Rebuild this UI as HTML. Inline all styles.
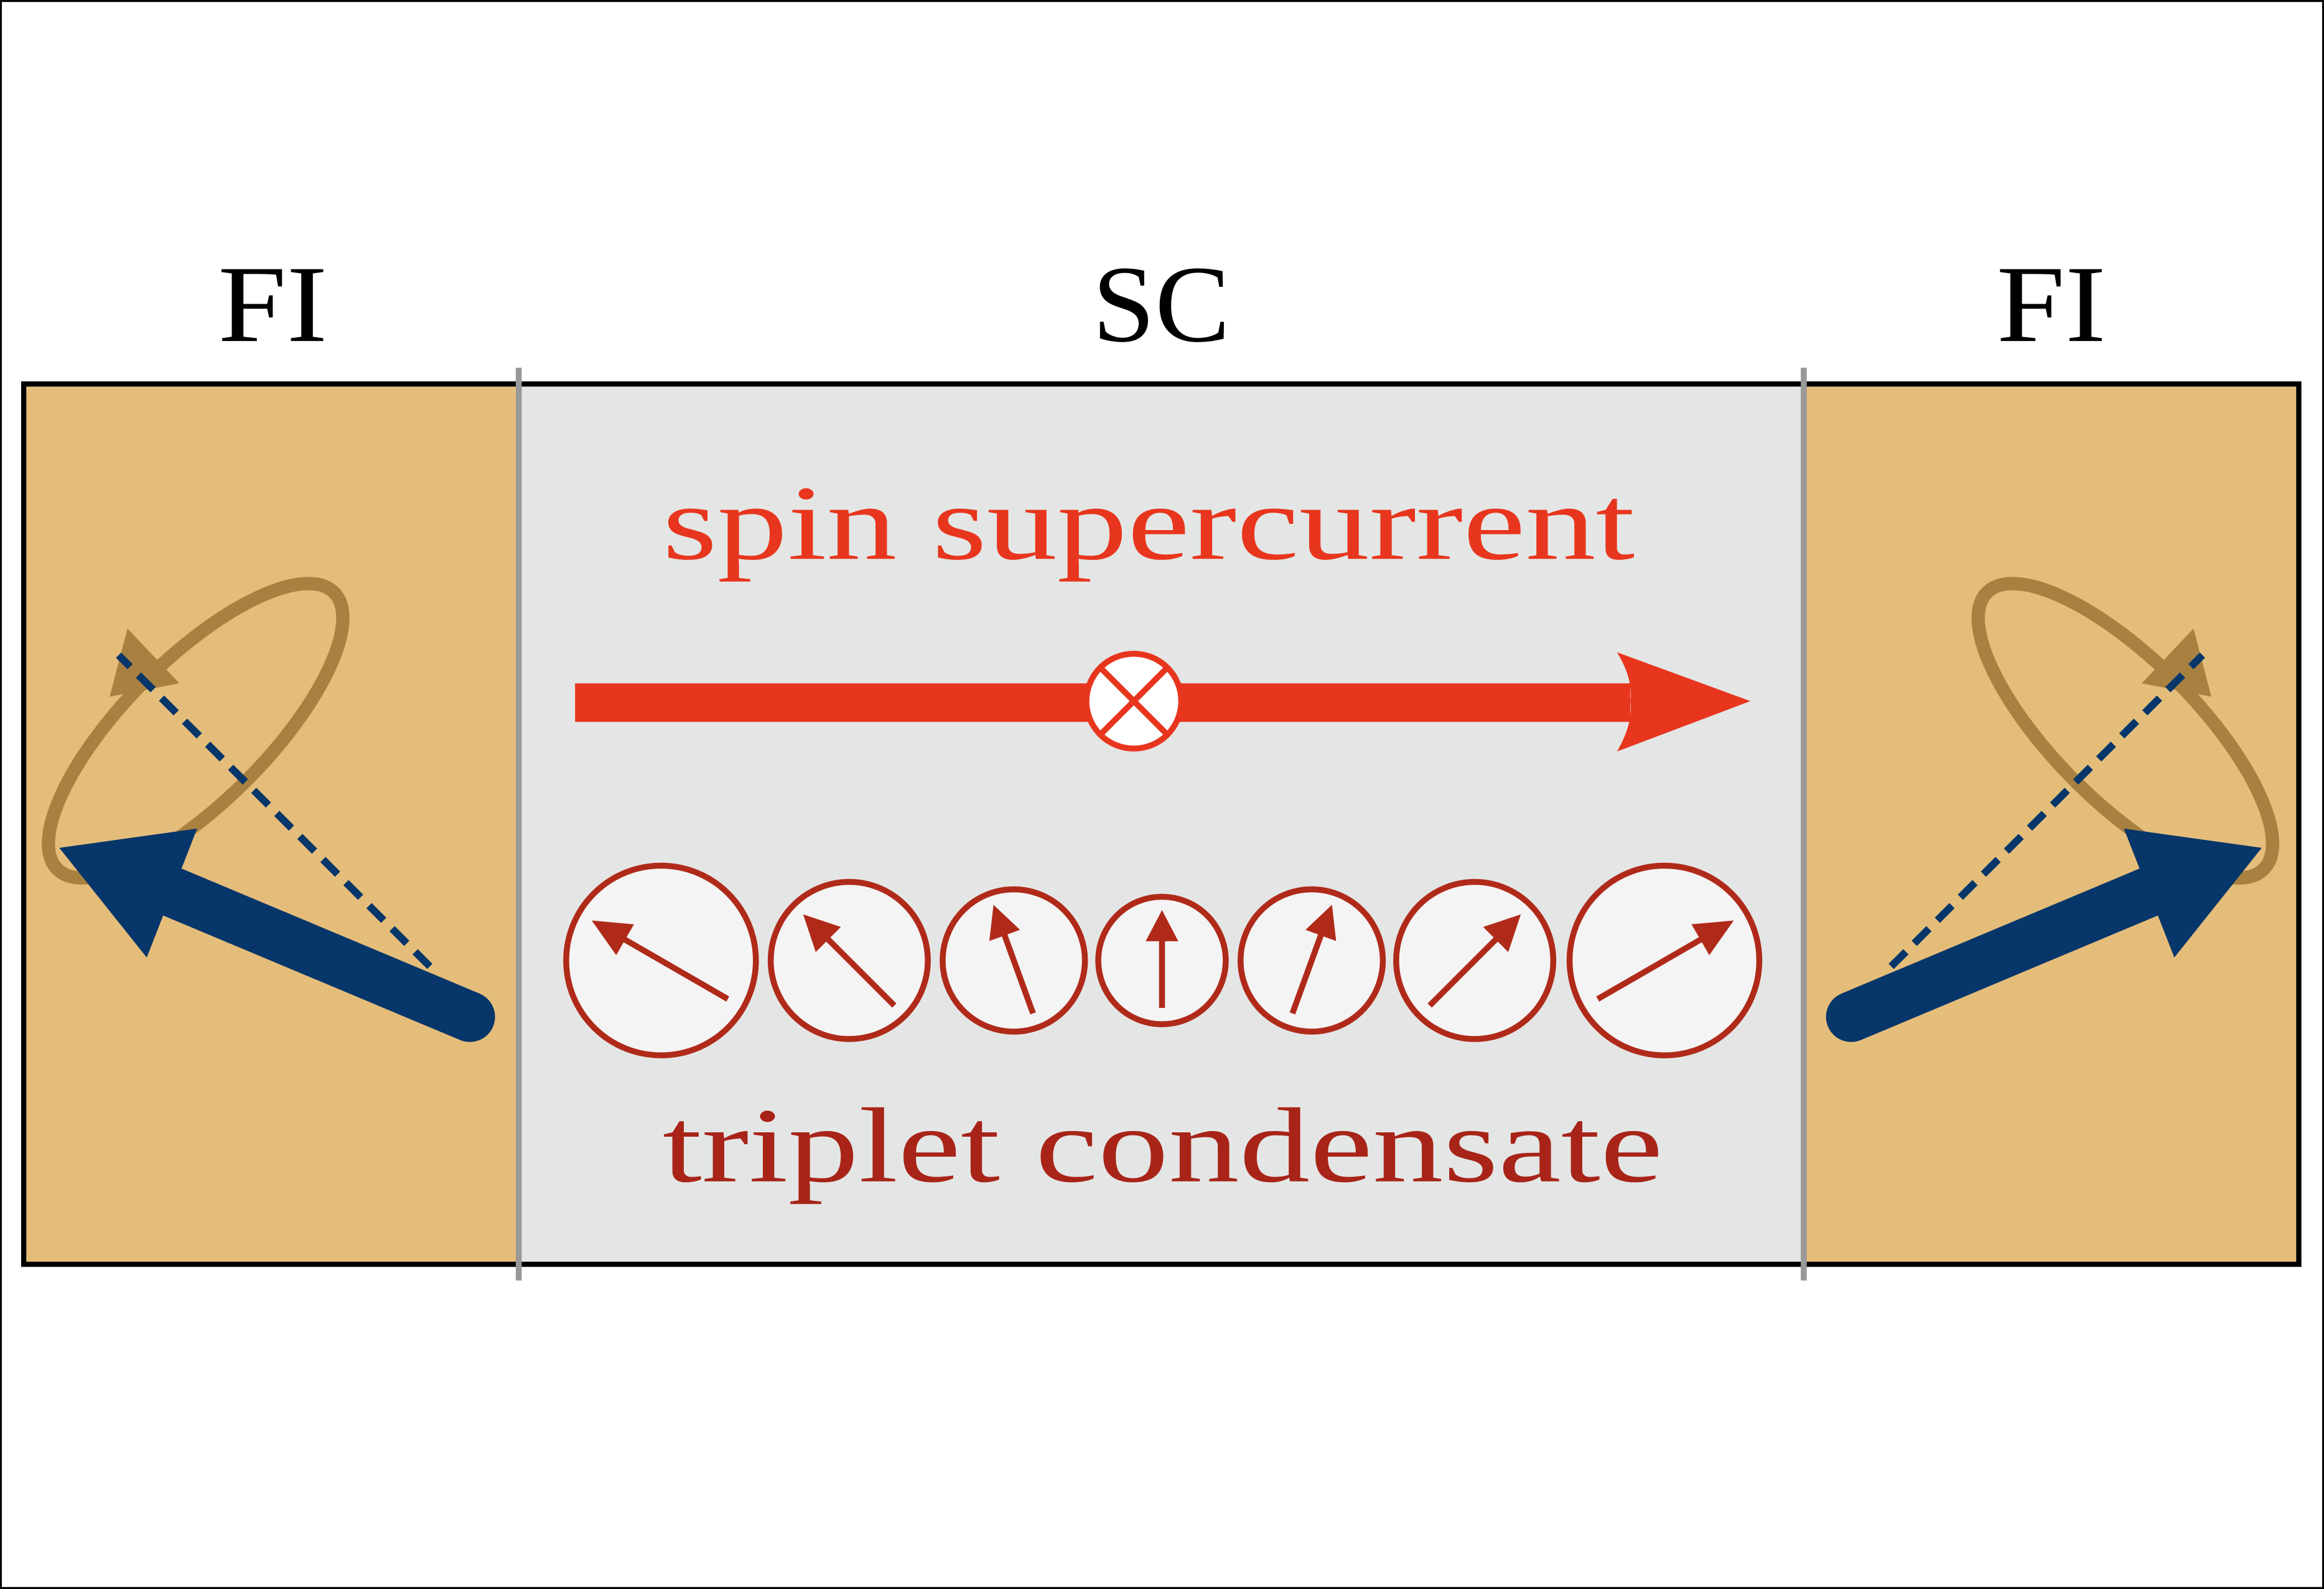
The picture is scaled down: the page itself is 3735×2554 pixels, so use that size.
<!DOCTYPE html>
<html><head><meta charset="utf-8"><style>
html,body{margin:0;padding:0;background:#fff}
svg{display:block}
text{font-family:"Liberation Serif",serif}
</style></head><body>
<svg width="3735" height="2554" viewBox="0 0 1568 1072" xmlns="http://www.w3.org/2000/svg">
<rect x="0.5" y="0.5" width="1567" height="1071" fill="#fff" stroke="#000" stroke-width="1.5"/>
<rect x="16" y="259" width="334" height="594" fill="#e5bd7b"/>
<rect x="350" y="259" width="867" height="594" fill="#e4e6e5"/>
<rect x="1217" y="259" width="334" height="594" fill="#e5bd7b"/>
<rect x="16" y="259" width="1535" height="594" fill="none" stroke="#000" stroke-width="3.5"/>
<line x1="350" y1="248" x2="350" y2="864" stroke="#999" stroke-width="4"/>
<line x1="1217" y1="248" x2="1217" y2="864" stroke="#999" stroke-width="4"/>
<text x="147" y="230" font-size="74" textLength="74" lengthAdjust="spacingAndGlyphs">FI</text>
<text x="737" y="230" font-size="74" textLength="93" lengthAdjust="spacingAndGlyphs">SC</text>
<text x="1347" y="230" font-size="74" textLength="74" lengthAdjust="spacingAndGlyphs">FI</text>
<text x="447" y="377" font-size="72" fill="#e8361e" textLength="656" lengthAdjust="spacingAndGlyphs">spin supercurrent</text>
<text x="447" y="797" font-size="72" fill="#a82418" textLength="675" lengthAdjust="spacingAndGlyphs">triplet condensate</text>
<rect x="388" y="461" width="712" height="26" fill="#e8361e"/>
<path d="M1181,473 L1091,440 Q1102,458 1100,473 Q1102,488 1091,507 Z" fill="#e8361e"/>
<circle cx="765" cy="473" r="32" fill="#fff" stroke="#e8361e" stroke-width="4"/>
<line x1="743" y1="451" x2="787" y2="495" stroke="#e8361e" stroke-width="4"/>
<line x1="787" y1="451" x2="743" y2="495" stroke="#e8361e" stroke-width="4"/>
<g stroke="#b02a1a" stroke-width="4" fill="#f4f4f4">
<circle cx="446" cy="648" r="64"/><circle cx="573" cy="648" r="53"/><circle cx="684" cy="648" r="48"/><circle cx="784" cy="648" r="43"/><circle cx="885" cy="648" r="48"/><circle cx="995" cy="648" r="53"/><circle cx="1123" cy="648" r="64"/>
</g>
<g fill="#b02a1a">
<g transform="translate(446,648) rotate(-60)"><line x1="0" y1="52" x2="0" y2="-30" stroke="#b02a1a" stroke-width="4"/><polygon points="0,-54 -12,-28 12,-28"/></g>
<g transform="translate(573,648) rotate(-45)"><line x1="0" y1="43" x2="0" y2="-22" stroke="#b02a1a" stroke-width="4"/><polygon points="0,-44 -12,-20 12,-20"/></g>
<g transform="translate(684,648) rotate(-20)"><line x1="0" y1="38" x2="0" y2="-20" stroke="#b02a1a" stroke-width="4"/><polygon points="0,-40 -11,-18 11,-18"/></g>
<g transform="translate(784,648)"><line x1="0" y1="32" x2="0" y2="-14" stroke="#b02a1a" stroke-width="4"/><polygon points="0,-34 -11,-13 11,-13"/></g>
<g transform="translate(885,648) rotate(20)"><line x1="0" y1="38" x2="0" y2="-20" stroke="#b02a1a" stroke-width="4"/><polygon points="0,-40 -11,-18 11,-18"/></g>
<g transform="translate(995,648) rotate(45)"><line x1="0" y1="43" x2="0" y2="-22" stroke="#b02a1a" stroke-width="4"/><polygon points="0,-44 -12,-20 12,-20"/></g>
<g transform="translate(1123,648) rotate(60)"><line x1="0" y1="52" x2="0" y2="-30" stroke="#b02a1a" stroke-width="4"/><polygon points="0,-54 -12,-28 12,-28"/></g>
</g>
<g id="L">
<ellipse cx="132" cy="493" rx="132" ry="48" transform="rotate(-45 132 493)" fill="none" stroke="#a88040" stroke-width="9"/>
<polygon points="86,424 74,470 121,461" fill="#a88040"/>
<line x1="290" y1="652" x2="80" y2="442" stroke="#06366a" stroke-width="5" stroke-dasharray="14,8"/>
<line x1="317" y1="686" x2="112" y2="600" stroke="#06366a" stroke-width="34" stroke-linecap="round"/>
<polygon points="40,572 99,646 133,559" fill="#06366a"/>
</g>
<use href="#L" transform="translate(1566,0) scale(-1,1)"/>
</svg>
</body></html>
